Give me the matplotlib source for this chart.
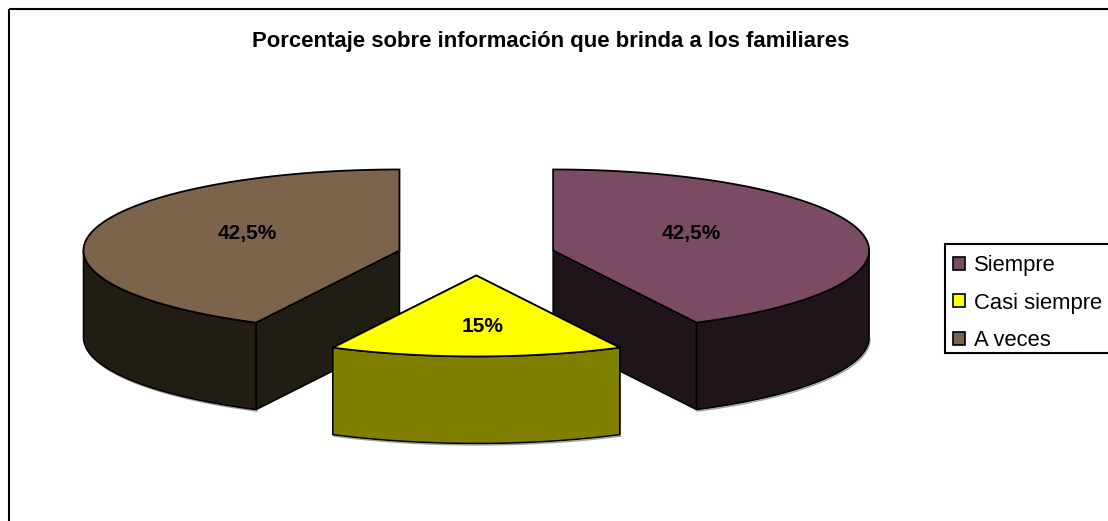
import matplotlib
matplotlib.use("Agg")
import matplotlib.pyplot as plt
from matplotlib.patches import Patch, Rectangle
import numpy as np

plt.rcParams['font.family'] = ['Liberation Sans', 'DejaVu Sans']

title = "Porcentaje sobre información que brinda a los familiares"
labels = ["Siempre", "Casi siempre", "A veces"]
values = [42.5, 15, 42.5]
top_colors = ["#7B4A63", "#FFFF00", "#7C634C"]
side_colors = ["#1E141A", "#808000", "#211C14"]

# layout of the fake 3d pie, in pixels
cx, cy = 476.3, 255.2
rx, ry = 316, 81
depth = 87
explode = 0.25
draw_order = [2, 0, 1]
label_pos = [(691, 233), (483, 327), (247, 233)]

fig = plt.figure(figsize=(11.08, 5.21), dpi=100)
ax = fig.add_axes([0, 0, 1, 1])
ax.set_xlim(0, 1108)
ax.set_ylim(521, 0)
ax.axis('off')

# chart frame, runs off the bottom of the picture
ax.add_patch(Rectangle((9.2, 8.8), 1200, 600, fill=False, edgecolor='black', linewidth=1.5, zorder=1))

fractions = np.array(values) / sum(values) * 360
starts = np.concatenate([[0], np.cumsum(fractions)[:-1]])


def point(px, py, angle):
    a = np.radians(angle)
    return px + rx * np.sin(a), py - ry * np.cos(a)


for i in draw_order:
    a0, a1 = starts[i], starts[i] + fractions[i]
    mid = (a0 + a1) / 2
    px, py = point(cx, cy, mid)
    px = cx + (px - cx) * explode
    py = cy + (py - cy) * explode
    z = 3 + draw_order.index(i)

    # cut faces
    for a in (a0, a1):
        ex, ey = point(px, py, a)
        if np.cos(np.radians(a)) < 0.95:
            ax.fill([px, ex, ex, px], [py, ey, ey + depth, py + depth], facecolor=side_colors[i],
                    edgecolor='black', linewidth=1.1, zorder=z)

    # outer wall, only the front half of the ellipse shows
    lo, hi = max(a0, 90), min(a1, 270)
    arc = np.linspace(lo, hi, 80)
    ax_, ay_ = point(px, py, arc)
    ax.plot(ax_ + 1, ay_ + depth + 1.5, color='#A0A0A0', linewidth=1, zorder=z)
    ax.fill(np.concatenate([ax_, ax_[::-1]]), np.concatenate([ay_, ay_[::-1] + depth]),
            facecolor=side_colors[i], edgecolor='black', linewidth=1.1, zorder=z)

    # top face
    arc = np.linspace(a0, a1, 120)
    tx, ty = point(px, py, arc)
    ax.fill(np.concatenate([[px], tx]), np.concatenate([[py], ty]), facecolor=top_colors[i],
            edgecolor='black', linewidth=1.3, zorder=z + 0.5)

    ax.text(label_pos[i][0], label_pos[i][1], f"{values[i]:g}%".replace(".", ","), fontsize=15,
            fontweight='bold', ha='center', va='center', zorder=10)

ax.text(550.5, 42, title, fontsize=15.9, fontweight='bold', ha='center', va='center')

# legend box is drawn apart so the rows can sit lower in it
ax.add_patch(Rectangle((945, 244), 200, 108.5, facecolor='white', edgecolor='black', linewidth=1.5, zorder=2))
handles = [Patch(facecolor=c, edgecolor='black', linewidth=1.2) for c in top_colors]
leg = ax.legend(handles, labels, loc='upper left', bbox_to_anchor=(945, 247), bbox_transform=ax.transData,
                fontsize=15.8, frameon=False,
                handlelength=0.55, handleheight=0.55, handletextpad=0.4, labelspacing=0.76,
                borderpad=0.36, borderaxespad=0)

fig.savefig("out.png", dpi=100)
